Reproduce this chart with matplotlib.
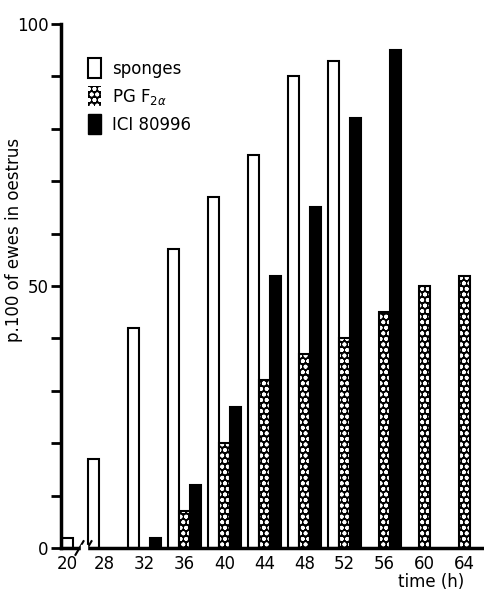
import numpy as np
import matplotlib.pyplot as plt
from matplotlib.patches import Patch

# time after treatment (h) and % of ewes in oestrus
hours = [20, 28, 32, 36, 40, 44, 48, 52, 56, 60, 64]
sponges = [2, 17, 42, 57, 67, 75, 90, 93, np.nan, np.nan, np.nan]
pgf2a = [np.nan, np.nan, np.nan, 7, 20, 32, 37, 40, 45, 50, 52]
ici = [np.nan, np.nan, 2, 12, 27, 52, 65, 82, 95, np.nan, np.nan]
series_labels = ['sponges', 'PG F$_{2\\alpha}$', 'ICI 80996']

plt.rcParams['font.family'] = ['DejaVu Sans']
plt.rcParams['font.size'] = 12
plt.rcParams['hatch.linewidth'] = 1.2

fig = plt.figure(figsize=(4.84, 5.91), dpi=100)
ax = fig.add_axes([61 / 484, 43 / 591, 423 / 484, 524 / 591])

# broken time axis: the 20 h group sits right next to the y axis
pos = np.array(hours, dtype=float)
pos[0] = 25.4
w = 1.1

ax.bar(pos - w, sponges, w, color='white', edgecolor='black', linewidth=1.5)
ax.bar(pos, pgf2a, w, color='black', edgecolor='white', hatch='ooo', linewidth=0)
ax.bar(pos, pgf2a, w, fill=False, edgecolor='black', linewidth=1.5)
ax.bar(pos + w, ici, w, color='black', edgecolor='black', linewidth=1.5)

ax.set_xlim(23.65, 65.95)
ax.set_ylim(0, 100)

ax.spines['top'].set_visible(False)
ax.spines['right'].set_visible(False)
ax.spines['left'].set_linewidth(2.5)
ax.spines['bottom'].set_linewidth(2.5)

ax.set_yticks(range(0, 101, 10))
ax.set_yticklabels(['0', '', '', '', '', '50', '', '', '', '', '100'])
ax.tick_params(axis='y', direction='out', length=7, width=2, pad=2)

tick_pos = pos.copy()
tick_pos[0] = 24.3
ax.set_xticks(tick_pos)
ax.set_xticklabels([str(h) for h in hours])
ax.tick_params(axis='x', length=0, pad=5)

ax.text(0.953, -0.047, 'time (h)', transform=ax.transAxes, ha='right', va='top')
ax.set_ylabel('p.100 of ewes in oestrus')
ax.yaxis.set_label_coords(-0.09, 0.588)

# axis break marks
for xb in (25.5, 26.3):
    ax.plot([xb - 0.4, xb + 0.4], [-1.3, 1.3], color='black', lw=1.5, clip_on=False)
ax.fill_between([25.6, 26.2], -1.5, 0.6, color='white', clip_on=False, zorder=3)

handles = [Patch(facecolor='white', edgecolor='black', linewidth=1.5),
           Patch(facecolor='black', edgecolor='white', hatch='ooo', linewidth=0),
           Patch(facecolor='black', edgecolor='black')]
ax.legend(handles, series_labels, loc='upper left', bbox_to_anchor=(0.064, 0.935),
          frameon=False, handlelength=0.8, handleheight=1.5, labelspacing=0.45,
          handletextpad=0.65, borderpad=0, borderaxespad=0)

fig.savefig('out.png', dpi=100)
